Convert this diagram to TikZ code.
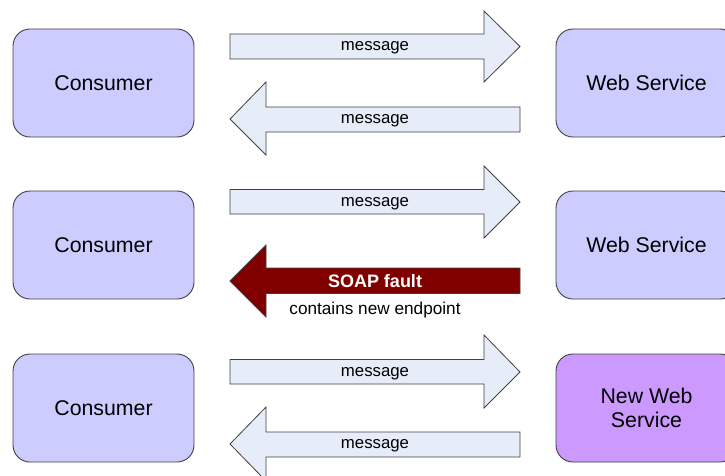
\documentclass[tikz,border=0pt]{standalone}
\usepackage{fontspec}
\setmainfont{Liberation Sans}
\definecolor{boxfill}{HTML}{CCCCFF}
\definecolor{newfill}{HTML}{CC99FF}
\definecolor{arrfill}{HTML}{E6EDF8}
\definecolor{faultfill}{HTML}{800000}
\definecolor{edgecol}{HTML}{404040}
\begin{document}
\begin{tikzpicture}[x=1pt,y=-1pt,
  svcbox/.style={draw=edgecol,line width=0.9pt,rounded corners=17pt,fill=boxfill,
    minimum width=181pt,minimum height=108pt,inner sep=0pt,
    font=\fontsize{21.3}{25}\selectfont,align=center},
  blockarrow/.style={draw=edgecol,line width=0.8pt,fill=arrfill},
  msglabel/.style={font=\fontsize{16.8}{19}\selectfont,inner sep=0pt,yshift=-1.5pt}]
\useasboundingbox (0,0) rectangle (725,475);
\begin{scope}
\clip (0,0) rectangle (725,475);
% boxes
\node[svcbox] (c1) at (103.5,83) {Consumer};
\node[svcbox] (w1) at (646.5,83) {Web Service};
\node[svcbox] (c2) at (103.5,245) {Consumer};
\node[svcbox] (w2) at (646.5,245) {Web Service};
\node[svcbox] (c3) at (103.5,408) {Consumer};
\node[svcbox,fill=newfill] (w3) at (646.5,408) {New Web\\[-1pt]Service};
% row 1 arrows
\draw[blockarrow] (230,34) -- (484,34) -- (484,11) -- (520,46.5) -- (484,82) -- (484,59) -- (230,59) -- cycle;
\node[msglabel] (m1) at (375,46.5) {message};
\draw[blockarrow] (520,107) -- (266,107) -- (266,82) -- (230,119) -- (266,155) -- (266,132) -- (520,132) -- cycle;
\node[msglabel] (m2) at (375,119.5) {message};
% row 2 arrows
\draw[blockarrow] (230,189.5) -- (484,189.5) -- (484,166) -- (520,202) -- (484,238) -- (484,214) -- (230,214) -- cycle;
\node[msglabel] (m3) at (375,202) {message};
\draw[blockarrow,fill=faultfill] (520,268) -- (266,268) -- (266,245) -- (230,281) -- (266,317) -- (266,293.5) -- (520,293.5) -- cycle;
\node[font=\fontsize{18}{21}\selectfont\bfseries,text=white,inner sep=0pt] (f) at (375,281) {SOAP fault};
\node[font=\fontsize{17.2}{20}\selectfont,inner sep=0pt] (ep) at (375,310.5) {contains new endpoint};
% row 3 arrows
\draw[blockarrow] (230,359.5) -- (484,359.5) -- (484,335) -- (520,372) -- (484,408) -- (484,384) -- (230,384) -- cycle;
\node[msglabel] (m4) at (375,372) {message};
\draw[blockarrow] (520,432) -- (266,432) -- (266,407) -- (230,444) -- (266,481) -- (266,457) -- (520,457) -- cycle;
\node[msglabel] (m5) at (375,444.5) {message};
\end{scope}
\end{tikzpicture}
\end{document}
